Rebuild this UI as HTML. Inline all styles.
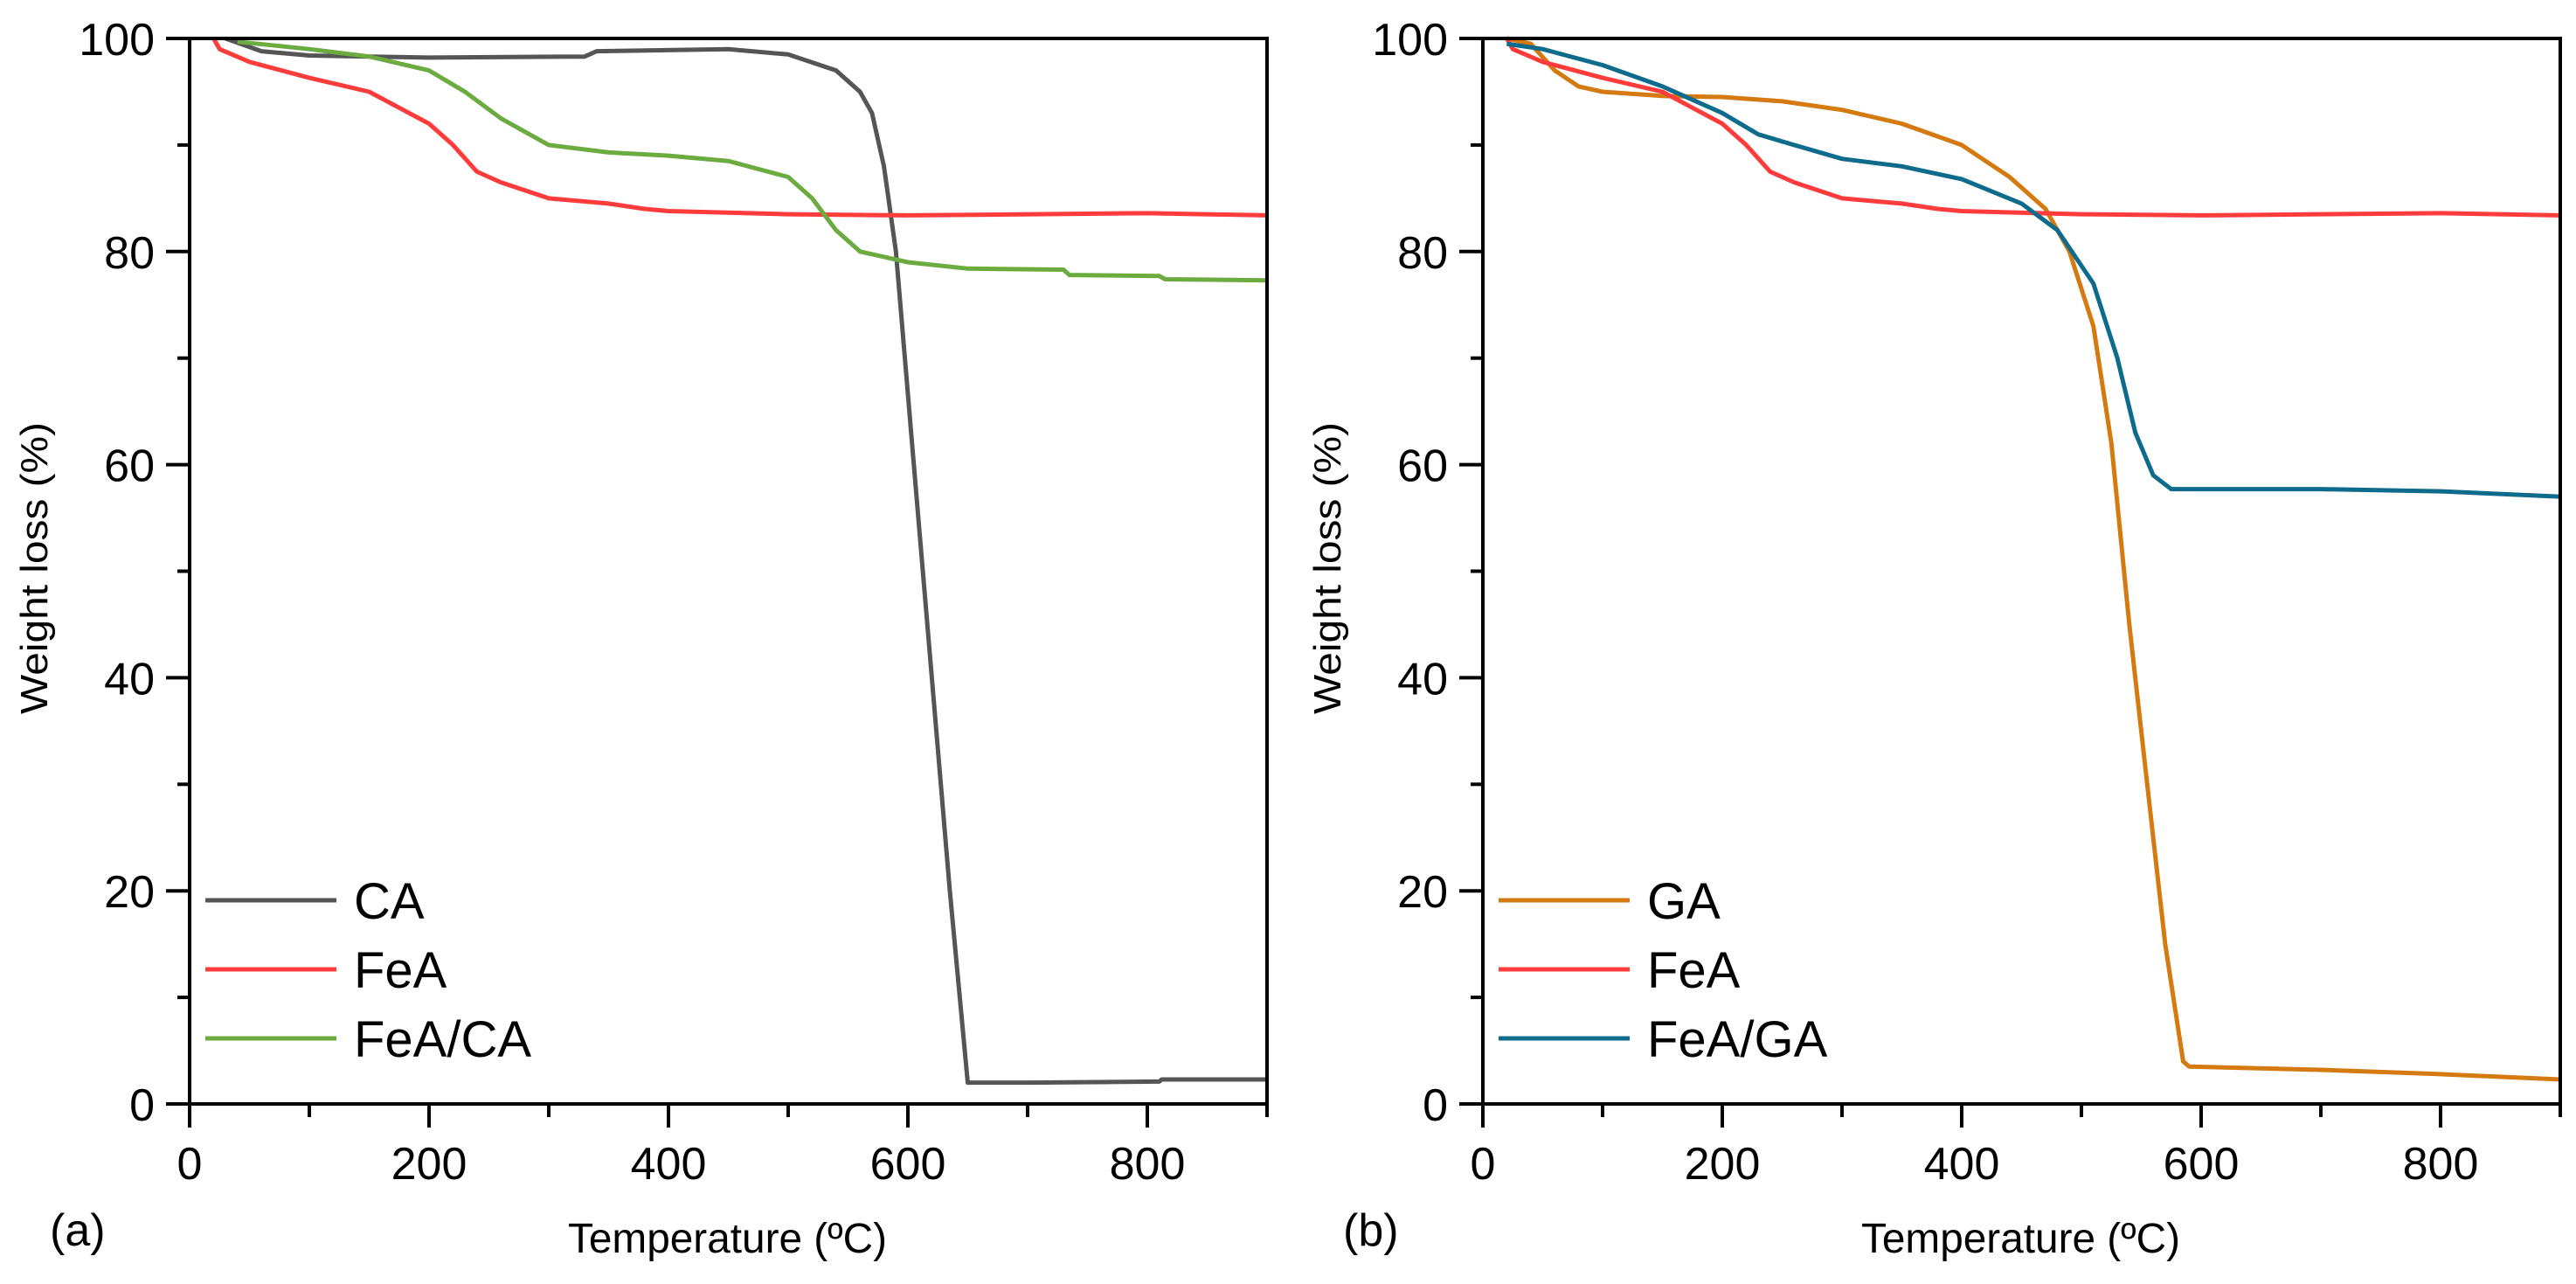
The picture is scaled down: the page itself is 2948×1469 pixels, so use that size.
<!DOCTYPE html>
<html><head><meta charset="utf-8"><style>
html,body{margin:0;padding:0;background:#fff;}
svg{display:block;font-family:"Liberation Sans",Arial,sans-serif;}
</style></head><body>
<svg id="chart" width="2948" height="1469" viewBox="0 0 2948 1469" xmlns="http://www.w3.org/2000/svg"></svg>
<script>
const xTicks = [0, 200, 400, 600, 800];
const yTicks = [0, 20, 40, 60, 80, 100];
const caT = [30,60,100,200,330,340,450,500,540,560,570,580,590,605,620,635,650,700,810,812,900];
const caW = [100,98.8,98.4,98.2,98.3,98.8,99,98.5,97,95,93,88,80,60,40,20,2,2,2.1,2.3,2.3];
const feaT = [20,25,50,100,150,200,220,240,260,300,350,380,400,500,600,800,900];
const feaW = [100,99,97.8,96.3,95,92,90,87.5,86.5,85,84.5,84,83.8,83.5,83.4,83.6,83.4];
const feacaT = [40,100,150,200,230,260,300,350,400,450,500,520,540,560,600,650,730,735,810,815,900];
const feacaW = [99.7,99,98.3,97,95,92.5,90,89.3,89,88.5,87,85,82,80,79,78.4,78.3,77.8,77.7,77.4,77.3];
const gaT = [20,40,60,80,100,150,200,250,300,350,400,440,470,490,510,525,540,555,570,585,590,700,800,900];
const gaW = [100,99.5,97,95.5,95,94.6,94.5,94.1,93.3,92,90,87,84,80,73,62,45,30,15,4,3.5,3.2,2.8,2.3];
const feagaT = [20,50,100,150,200,230,260,300,350,400,450,480,510,530,545,560,575,600,700,800,900];
const feagaW = [99.5,99,97.5,95.5,93,91,90,88.7,88,86.8,84.5,82,77,70,63,59,57.7,57.7,57.7,57.5,57];

const NS = "http://www.w3.org/2000/svg";
const svg = document.getElementById('chart');
function mk(tag, attrs, parent){ const e=document.createElementNS(NS,tag); for(const k in attrs) e.setAttribute(k,attrs[k]); (parent||svg).appendChild(e); return e; }

const Y0 = 1263, Y100 = 44;
function yScale(v){ return Y0 - (v/100)*(Y0-Y100); }

function panel(id, x0, label, series){
  const x900 = x0 + 1233;
  const xScale = t => x0 + t/900*(x900-x0);
  const g = mk('g', {});
  
  
  series.forEach(s => {
    const p = mk('polyline', {fill:'none', stroke:s.color, 'stroke-width':5, 'stroke-linejoin':'round', points: s.t.map((t,i)=>xScale(t).toFixed(1)+','+yScale(s.w[i]).toFixed(1)).join(' ')}, g);
    
    
  });
  const fr = mk('rect', {x:x0, y:Y100, width:x900-x0, height:Y0-Y100, fill:'none', stroke:'#000', 'stroke-width':4}, g);
  
  
  for(let t=0;t<=900;t+=100){
    const major = t%200===0;
    const tk = mk('line', {x1:xScale(t), x2:xScale(t), y1:Y0, y2:Y0+(major?27:15), stroke:'#000', 'stroke-width':4}, g);
    
    
  }
  xTicks.forEach(t => {
    const tx = mk('text', {x:xScale(t), y:Y0+86, 'font-size':52, 'text-anchor':'middle'}, g);
    tx.textContent = t;
    
    
  });
  for(let v=0;v<=100;v+=10){
    const major = v%20===0;
    const tk = mk('line', {x1:x0, x2:x0-(major?27:14), y1:yScale(v), y2:yScale(v), stroke:'#000', 'stroke-width':4}, g);
    
    
  }
  yTicks.forEach(v => {
    const tx = mk('text', {x:x0-40, y:yScale(v)+19, 'font-size':52, 'text-anchor':'end'}, g);
    tx.textContent = v;
    
    
  });
  const yt = mk('text', {x:0, y:0, 'font-size':44, 'text-anchor':'middle', textLength:334, lengthAdjust:'spacingAndGlyphs', transform:'translate('+(x0-163)+',650) rotate(-90)'}, g);
  yt.textContent = 'Weight loss (%)';
  
  
  const xt = mk('text', {x:(x0+x900)/2 - 1, y:1433, 'font-size':48, 'text-anchor':'middle', textLength:365, lengthAdjust:'spacingAndGlyphs'}, g);
  xt.textContent = 'Temperature (ºC)';
  
  
  const pl = mk('text', {x:x0-160, y:1425, 'font-size':52}, g);
  pl.textContent = label;
  
  
  series.forEach((s,i) => {
    const ly = 1030 + i*79;
    const ll = mk('line', {x1:x0+18, x2:x0+168, y1:ly, y2:ly, stroke:s.color, 'stroke-width':5}, g);
    
    
    const lt = mk('text', {x:x0+188, y:ly+21, 'font-size':58}, g);
    lt.textContent = s.name;
    
    
  });
}

panel('a', 217, '(a)', [
  {name:'CA', color:'#555555', t:caT, w:caW},
  {name:'FeA', color:'#ff3c3c', t:feaT, w:feaW},
  {name:'FeA/CA', color:'#6bab3f', t:feacaT, w:feacaW}
]);
panel('b', 1697, '(b)', [
  {name:'GA', color:'#d47a10', t:gaT, w:gaW},
  {name:'FeA', color:'#ff3c3c', t:feaT, w:feaW},
  {name:'FeA/GA', color:'#0f6b8c', t:feagaT, w:feagaW}
]);
</script>
</body></html>
